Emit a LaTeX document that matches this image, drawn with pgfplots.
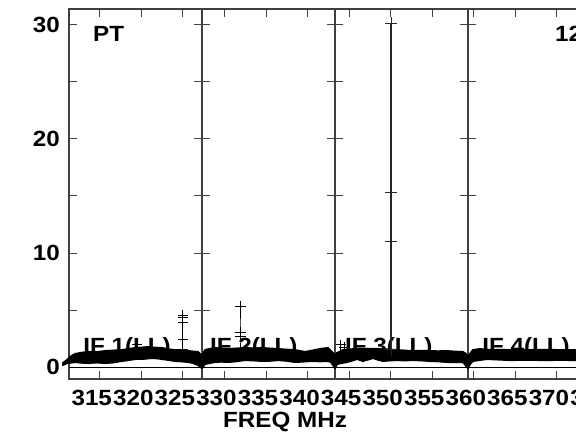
\documentclass[border=0pt]{standalone}
\usepackage{pgfplots}
\pgfplotsset{compat=1.18}
\usepackage{fontspec}
\newfontfamily\lab[FakeStretch=1.1]{Liberation Sans}
\newcommand{\labf}{\lab\bfseries\fontsize{22}{24}\selectfont}
\begin{document}
\begin{tikzpicture}
\useasboundingbox (-69pt,-54pt) rectangle (507pt,379pt);
\begin{axis}[
  scale only axis, width=532pt, height=370pt,
  at={(0pt,0pt)}, anchor=south west,
  xmin=311.3, xmax=375.3, ymin=-1.05, ymax=31.4,
  axis line style={black!75, line width=1.2pt},
  xtick={315,320,...,375},
  ytick={0,5,...,30}, yticklabels={0,,10,,20,,30},
  major tick length=8pt,
  tick style={black!75, line width=1pt},
  /pgf/number format/assume math mode=true,
  /pgf/number format/1000 sep={},
  xticklabel style={font=\labf, inner sep=0pt, anchor=north, yshift=-11pt, xshift=-8pt},
  yticklabel style={font=\labf, inner sep=0pt, anchor=east, xshift=-9pt},
  clip=false,
]
% panel labels (drawn first, partly hidden by the band)
\node[anchor=base west, font=\labf, inner sep=0pt] at (axis cs:313.0,1.18) {IF 1(LL)};
\node[anchor=base west, font=\labf, inner sep=0pt] at (axis cs:328.26,1.18) {IF 2(LL)};
\node[anchor=base west, font=\labf, inner sep=0pt] at (axis cs:344.5,1.18) {IF 3(LL)};
\node[anchor=base west, font=\labf, inner sep=0pt] at (axis cs:361.0,1.18) {IF 4(LL)};
\node[anchor=base west, font=\labf, inner sep=0pt] at (axis cs:314.19,28.51) {PT};
\node[anchor=base west, font=\labf, inner sep=0pt] at (axis cs:369.77,28.51) {12};
\node[anchor=base, font=\labf, inner sep=0pt] at (axis cs:337.29,-5.26) {FREQ MHz};
% IF separators
\addplot[black!75, line width=1.2pt] coordinates {(327.3,-1.05) (327.3,31.4)};
\addplot[black!75, line width=1.2pt] coordinates {(343.3,-1.05) (343.3,31.4)};
\addplot[black!75, line width=1.2pt] coordinates {(359.3,-1.05) (359.3,31.4)};
\addplot[black!75, only marks, mark=-, mark size=8pt, mark options={line width=1pt}] coordinates {
 (327.3,5) (327.3,10) (327.3,15) (327.3,20) (327.3,25) (327.3,30)
 (343.3,5) (343.3,10) (343.3,15) (343.3,20) (343.3,25) (343.3,30)
 (359.3,5) (359.3,10) (359.3,15) (359.3,20) (359.3,25) (359.3,30)};
% zero line
\addplot[black, line width=1pt] coordinates {(311.3,0) (375.3,0)};
% band IF1
\addplot[black, fill=black, line width=2pt, line join=round] coordinates {
 (310.58,0.35) (311.06,0.61) (311.42,0.88) (312.02,1.14) (312.8,1.25) (313.59,1.32)
 (314.6,1.30) (315.63,1.40) (316.6,1.44) (317.68,1.49) (318.5,1.58) (319.24,1.67)
 (320.0,1.70) (320.80,1.75) (321.6,1.70) (322.49,1.67) (323.3,1.55) (324.05,1.49)
 (324.8,1.45) (325.62,1.40) (326.2,1.36) (326.82,1.32) (327.3,0.96)
 (327.3,-0.09) (326.82,0.18) (326.2,0.36) (325.62,0.44) (324.8,0.50) (324.05,0.53)
 (323.3,0.62) (322.49,0.70) (321.9,0.76) (321.29,0.79) (320.3,0.72) (319.24,0.70)
 (318.4,0.60) (317.68,0.53) (316.6,0.40) (315.63,0.35) (314.6,0.40) (313.59,0.35)
 (312.8,0.38) (312.02,0.44) (311.5,0.38) (311.06,0.35) (310.58,0.18)} -- cycle;
% band IF2
\addplot[black, fill=black, line width=2pt, line join=round] coordinates {
 (327.3,0.96) (327.66,1.49) (328.2,1.58) (328.86,1.67) (329.6,1.62) (330.43,1.58)
 (331.4,1.62) (332.47,1.67) (333.5,1.63) (334.52,1.67) (335.5,1.62) (336.44,1.58)
 (337.5,1.52) (338.49,1.49) (339.1,1.40) (339.69,1.32) (340.3,1.40) (340.89,1.49)
 (341.7,1.60) (342.46,1.67) (343.06,1.23) (343.3,0.96)
 (343.3,-0.09) (342.82,0.44) (342.46,0.53) (341.5,0.50) (340.53,0.53) (339.5,0.48)
 (338.49,0.44) (337.5,0.55) (336.44,0.61) (335.5,0.55) (334.52,0.53) (333.5,0.58)
 (332.47,0.61) (331.4,0.50) (330.43,0.44) (329.6,0.47) (328.86,0.44) (328.2,0.35)
 (327.66,0.26) (327.3,-0.09)} -- cycle;
% band IF3
\addplot[black, fill=black, line width=2pt, line join=round] coordinates {
 (343.3,0.96) (343.54,1.23) (344.26,1.49) (345.1,1.55) (345.95,1.58) (347.3,1.60)
 (348.71,1.58) (349.7,1.54) (350.76,1.49) (351.7,1.44) (352.68,1.40) (353.7,1.42)
 (354.73,1.40) (355.7,1.38) (356.77,1.40) (357.7,1.35) (358.70,1.32) (359.06,1.14)
 (359.3,0.88)
 (359.3,-0.09) (358.70,0.44) (357.7,0.42) (356.77,0.44) (355.7,0.50) (354.73,0.53)
 (353.7,0.58) (352.68,0.61) (351.7,0.58) (350.76,0.61) (349.9,0.58) (349.07,0.53)
 (348.4,0.66) (347.87,0.79) (347.2,0.64) (346.67,0.53) (346.3,0.62) (345.95,0.70)
 (345.3,0.55) (344.74,0.44) (344.1,0.35) (343.54,0.26) (343.3,-0.09)} -- cycle;
% band IF4
\addplot[black, fill=black, line width=2pt, line join=round] coordinates {
 (359.3,0.88) (359.54,1.14) (359.90,1.49) (360.74,1.58) (361.5,1.52) (362.31,1.49)
 (363.3,1.50) (364.35,1.49) (365.4,1.52) (366.40,1.49) (368.4,1.50) (370.37,1.49)
 (372.77,1.49) (375.30,1.40)
 (375.30,0.61) (372.77,0.61) (370.5,0.62) (368.32,0.61) (366.3,0.63) (364.35,0.61)
 (362.9,0.66) (361.59,0.70) (360.7,0.62) (359.90,0.53) (359.54,0.26) (359.3,-0.09)} -- cycle;
% spikes with + marks
\addplot[black, line width=1pt, mark=+, mark size=5pt, mark options={line width=1pt}] coordinates {
 (325.0,1.5) (325.0,2.4) (325.0,3.9) (325.0,4.3) (325.0,4.56)};
\addplot[black, line width=1pt, mark=+, mark size=5.5pt, mark options={line width=1pt}] coordinates {
 (331.99,1.5) (331.99,2.72) (331.99,3.07) (331.99,5.35)};
\addplot[black!85, line width=1.5pt, mark=+, mark size=6pt, mark options={line width=1pt}] coordinates {
 (350.04,1.5) (350.04,11.0) (350.04,15.3) (350.04,30.17)};
\addplot[black, only marks, mark=+, mark size=5pt, mark options={line width=1pt}] coordinates {
 (344.0,1.95) (344.4,1.75) (319.5,1.95)};
\end{axis}
\end{tikzpicture}
\end{document}
